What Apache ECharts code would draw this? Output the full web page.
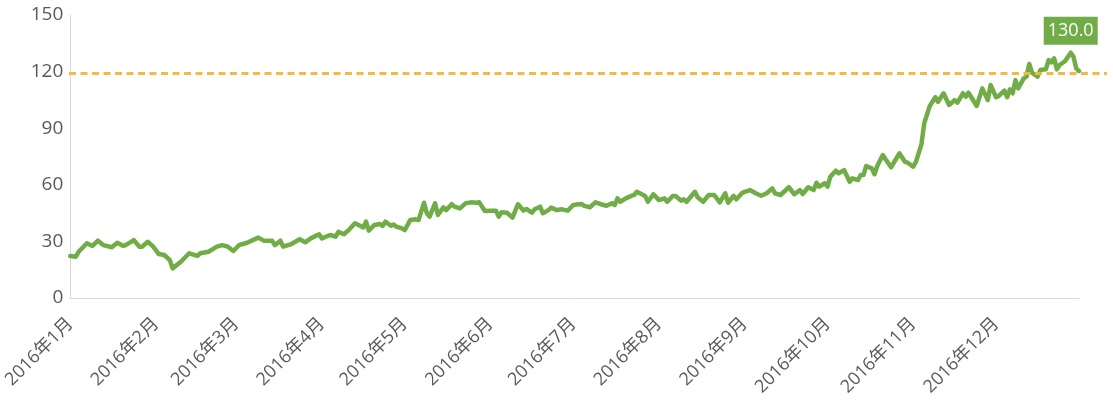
<!DOCTYPE html>
<html>
<head>
<meta charset="utf-8">
<script src="https://cdn.jsdelivr.net/npm/echarts@6/dist/echarts.min.js"></script>
<style>
html,body{margin:0;padding:0;background:#fff;}
#chart{width:1113px;height:406px;}
</style>
</head>
<body>
<div id="chart"></div>
<script>
// Day offsets from 2016-01-01 and the values
const days = [0,2,3,6,8,10,12,15,17,19,20,23,25,26,28,30,32,34,36,37,40,43,46,47,50,52,53,55,57,59,
61,64,68,70,73,74,76,77,80,83,85,87,90,91,94,96,97,99,101,103,105,106,107,108,110,112,113,114,116,117,118,
120,121,123,125,126,128,129,130,132,133,135,136,138,139,141,143,145,147,148,150,152,154,155,156,158,160,
162,164,165,167,168,170,171,173,174,176,178,180,182,183,185,186,188,190,192,194,196,197,198,199,201,203,
204,205,208,209,211,213,215,216,218,219,221,222,223,226,227,229,231,233,235,237,238,240,241,243,244,246,
248,250,252,254,255,257,260,262,264,265,267,269,270,271,273,274,275,277,278,280,282,283,285,286,287,288,
290,291,292,294,295,297,300,302,303,305,306,308,309,311,313,314,316,318,320,321,323,324,325,328,330,332,
333,335,336,338,339,340,341,342,343,345,346,347,348,350,351,353,354,355,356,357,358,360,362,363,364,365];
const values = [22.3,21.9,24.5,29,27.6,30.4,28,26.9,29.3,27.7,28,30.7,27.2,27.2,29.8,27.2,23.3,22.8,20.1,15.7,19.2,23.7,22.3,23.7,24.5,26.3,27.2,28,27.2,24.9,
28,29.3,32,30.4,30.4,28,30.4,27.2,28.6,31.1,29.5,31.6,33.8,31.6,33.4,32.5,35.1,33.8,36.4,39.6,38.2,37.4,40.5,35.7,38.7,39.2,38.2,40.5,38.3,39,37.8,
36.9,36,41.3,41.7,41.3,50.5,44.9,43.1,50.2,44,48.1,46.6,49.7,48.4,47.5,50.2,50.7,50.5,50.7,46.1,46.3,46.3,43.1,45.4,45.2,42.6,
49.7,46.3,47.2,45.2,47,48.4,44.9,46.6,47.9,46.6,47,46.3,49.3,49.5,49.8,48.8,48.1,50.7,49.7,48.9,50.2,49.3,52.8,51,52.8,54.1,
54.6,56.3,54.1,51,55,51.9,52.8,51,54.1,54.1,51.6,52.3,51,56.3,53.4,51,54.6,54.6,50.7,55.5,50.5,54.1,52.3,55.5,56.3,57.2,
55.5,54.2,55.5,58.1,55.5,54.6,58.7,55,57.2,55.1,58.7,57.2,61.1,59,60.8,59,64.3,67.5,66.1,67.8,61.6,63.4,62.5,65.2,65.2,70,
68.7,65.6,70,75.8,73.5,69.3,76.7,72.2,71.7,69.6,72.2,81.6,92.6,101.8,106.4,104,108.5,102.3,104.9,103.5,108.5,106.7,108.8,101.8,111.1,104.9,
112.9,106.4,107.1,109.9,106.4,110.6,108.5,115.5,111.1,116.4,117.3,124,119.4,117.3,120.8,121.2,126.1,124.9,127,121.2,123.5,125.6,130,127.9,121.7,120.3];
const targetValue = 119;
const yTicks = [0, 30, 60, 90, 120, 150];

const toTime = d => new Date(2016, 0, 1 + d).getTime();
const seriesData = days.map((d, i) => [toTime(d), values[i]]);

const chart = echarts.init(document.getElementById('chart'), null, {renderer: 'canvas'});
const DAY = 86400000;
const axisColor = '#D9D9D9';
const textColor = '#595959';
const font = '"Open Sans", "Noto Sans CJK SC", sans-serif';

chart.setOption({
  backgroundColor: '#ffffff',
  animation: false,
  grid: [
    {left: 69, right: 34, top: 15, bottom: 108, containLabel: false},
    {left: 69, right: 6, top: 15, bottom: 108, containLabel: false}
  ],
  xAxis: [
    {
      type: 'time', gridIndex: 0,
      min: toTime(0), max: toTime(365),
      splitNumber: 12, minInterval: 28 * DAY, maxInterval: 31 * DAY,
      axisLine: {show: true, lineStyle: {color: axisColor, width: 1}},
      axisTick: {show: false},
      splitLine: {show: false},
      axisLabel: {
        rotate: 45, margin: 23, color: textColor, fontSize: 18, fontFamily: font,
        hideOverlap: false,
        formatter: v => { const d = new Date(v); return d.getFullYear() + '年' + (d.getMonth() + 1) + '月'; }
      }
    },
    {type: 'value', gridIndex: 1, min: 0, max: 1, show: false}
  ],
  yAxis: [
    {
      type: 'value', gridIndex: 0, min: yTicks[0], max: yTicks[yTicks.length - 1], interval: 30,
      axisLine: {show: true, lineStyle: {color: axisColor, width: 1}},
      axisTick: {show: false},
      splitLine: {show: false},
      axisLabel: {color: textColor, fontSize: 19, fontFamily: font, margin: 7}
    },
    {type: 'value', gridIndex: 1, min: yTicks[0], max: yTicks[yTicks.length - 1], show: false}
  ],
  series: [
    {
      type: 'line', xAxisIndex: 0, yAxisIndex: 0,
      data: seriesData,
      showSymbol: false, symbol: 'none',
      lineStyle: {color: '#70AD47', width: 4.5, join: 'round', cap: 'round'},
      z: 3,
      markPoint: {
        symbol: 'rect', symbolSize: [54, 28], symbolOffset: [0, -22],
        itemStyle: {color: '#70AD47'},
        label: {show: true, position: 'inside', color: '#ffffff', fontSize: 18, fontFamily: font,
          formatter: p => Number(p.value).toFixed(1)},
        data: [{type: 'max'}]
      }
    },
    {
      type: 'line', xAxisIndex: 1, yAxisIndex: 1,
      data: [[0, targetValue], [1, targetValue]],
      showSymbol: false, symbol: 'none',
      lineStyle: {color: '#F4B942', width: 3, type: [7, 4.5]},
      z: 4
    }
  ]
});
</script>
</body>
</html>
